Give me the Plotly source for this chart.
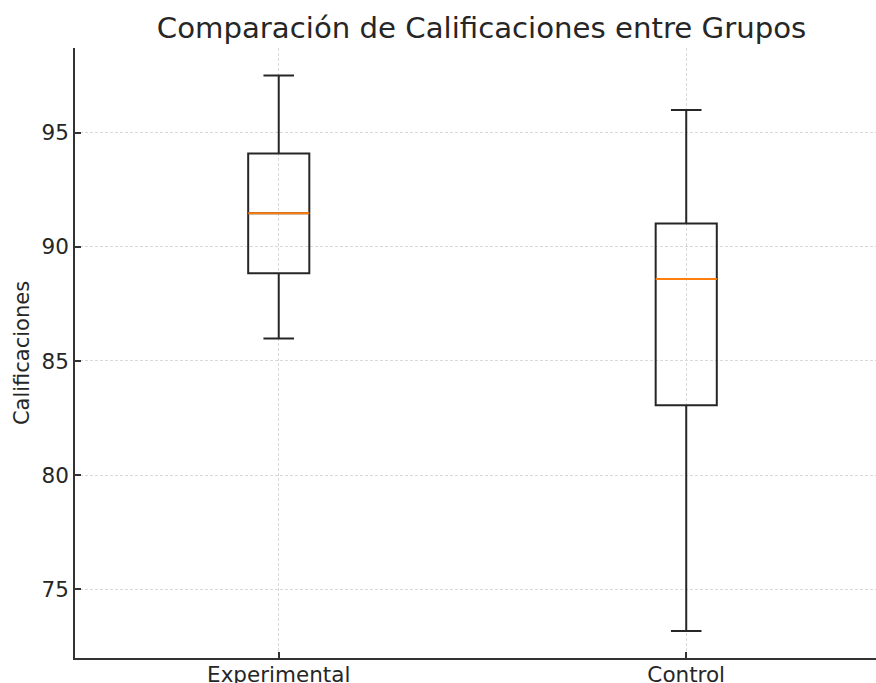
import plotly.graph_objects as go

groups = ["Experimental", "Control"]
lower_whisker = [85.98, 73.17]
q1_vals = [88.84, 83.06]
median_vals = [91.47, 88.59]
q3_vals = [94.09, 91.03]
upper_whisker = [97.51, 96.0]
y_ticks = [75, 80, 85, 90, 95]

FONT = "DejaVu Sans"
TXT = "#262626"

fig = go.Figure()
fig.add_trace(go.Box(
    x=groups, q1=q1_vals, median=median_vals, q3=q3_vals,
    lowerfence=lower_whisker, upperfence=upper_whisker,
    boxpoints=False, width=0.15, whiskerwidth=0.5,
    line=dict(color="#262626", width=2), fillcolor="rgba(255,255,255,0)",
    showlegend=False, hoverinfo="skip",
))
# orange median lines
fig.add_trace(go.Box(
    x=groups, q1=median_vals, median=median_vals, q3=median_vals,
    lowerfence=median_vals, upperfence=median_vals,
    boxpoints=False, width=0.15, whiskerwidth=0,
    line=dict(color="#ff7f0e", width=2), fillcolor="rgba(255,255,255,0)",
    showlegend=False, hoverinfo="skip",
))

fig.update_layout(
    width=876, height=683,
    margin=dict(l=74.5, r=0, t=48, b=25.3, autoexpand=False),
    paper_bgcolor="white", plot_bgcolor="white",
    boxmode="overlay",
    font=dict(family=FONT, color=TXT, size=21.5),
    title=dict(
        text="Comparación de Calificaciones entre Grupos",
        font=dict(family=FONT, size=29.2, color=TXT),
        xref="container", x=481.5 / 876, xanchor="center",
        yref="container", y=1 - 28 / 683, yanchor="middle",
    ),
    xaxis=dict(
        type="category", categoryorder="array", categoryarray=groups,
        range=[-0.5, 1.4657],
        showline=True, linecolor="#333333", linewidth=1.5,
        ticks="inside", ticklen=6, tickcolor="#333333", tickwidth=1.5,
        showgrid=True, gridcolor="#d9d9d9", gridwidth=1, griddash="3px,2px",
        tickfont=dict(family=FONT, size=21.5, color=TXT),
        ticklabelstandoff=-4,
        zeroline=False,
    ),
    yaxis=dict(
        range=[71.985, 98.715],
        tickvals=y_ticks,
        showline=True, linecolor="#333333", linewidth=1.5,
        ticks="inside", ticklen=6, tickcolor="#333333", tickwidth=1.5,
        showgrid=True, gridcolor="#d9d9d9", gridwidth=1, griddash="3px,2px",
        tickfont=dict(family=FONT, size=21.5, color=TXT),
        title=dict(text="Calificaciones", font=dict(family=FONT, size=21, color=TXT), standoff=6),
        zeroline=False,
    ),
)

fig.write_html("out.html", config={"displayModeBar": False},
               post_script="document.body.style.margin='0px';")
